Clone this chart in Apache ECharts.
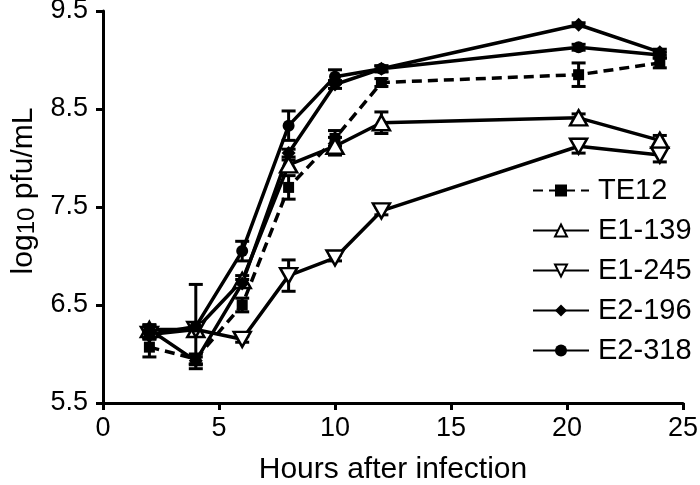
<!DOCTYPE html>
<html>
<head>
<meta charset="utf-8">
<script src="https://cdn.jsdelivr.net/npm/echarts@6/dist/echarts.min.js"></script>
<style>
  html, body { margin: 0; padding: 0; background: #fff; }
  #box { width: 700px; height: 485px; }
</style>
</head>
<body>
<div id="box"></div>
<script>
// data
var hours = [2, 4, 6, 8, 10, 12, 20.5, 24];
var xTicks = [0, 5, 10, 15, 20, 25];
var yTicks = [5.5, 6.5, 7.5, 8.5, 9.5];

var te12 = [6.07, 5.95, 6.5, 7.7, 8.2, 8.77, 8.85, 8.97];
var te12Err = [0.1, 0.05, 0.07, 0.12, 0.08, 0.04, 0.12, 0.05];
var e1_139 = [6.25, 6.25, 6.75, 7.93, 8.12, 8.36, 8.41, 8.18];
var e1_139Err = [0.05, 0.05, 0.05, 0.05, 0.09, 0.11, 0.04, 0.05];
var e1_245 = [6.2, 6.25, 6.15, 6.8, 6.98, 7.46, 8.12, 8.03];
var e1_245Err = [0.04, 0.04, 0.03, 0.16, 0.03, 0.04, 0.07, 0.07];
var e2_196 = [6.25, 5.93, 6.72, 8.05, 8.75, 8.91, 9.36, 9.08];
var e2_196Err = [0.04, 0.04, 0.04, 0.04, 0.04, 0.03, 0.02, 0.03];
var e2_318 = [6.2, 6.28, 7.05, 8.33, 8.83, 8.91, 9.13, 9.05];
var e2_318Err = [0.05, 0.43, 0.1, 0.15, 0.07, 0.03, 0.03, 0.03];

var names = ['TE12', 'E1-139', 'E1-245', 'E2-196', 'E2-318'];

function pts(ys) {
    return hours.map(function(h, i) { return [h, ys[i]]; });
}
function errPts(ys, es) {
    return hours.map(function(h, i) { return [h, ys[i] - es[i], ys[i] + es[i]]; });
}

// error bars with caps
function errSeries(ys, es) {
    return {
        type: 'custom',
        silent: true,
        z: 1,
        data: errPts(ys, es),
        renderItem: function(params, api) {
            var lo = api.coord([api.value(0), api.value(1)]);
            var hi = api.coord([api.value(0), api.value(2)]);
            var w = 7;
            var st = { stroke: '#000', lineWidth: 3 };
            return {
                type: 'group',
                children: [
                    { type: 'line', shape: { x1: lo[0], y1: lo[1], x2: hi[0], y2: hi[1] }, style: st },
                    { type: 'line', shape: { x1: lo[0] - w, y1: lo[1], x2: lo[0] + w, y2: lo[1] }, style: st },
                    { type: 'line', shape: { x1: hi[0] - w, y1: hi[1], x2: hi[0] + w, y2: hi[1] }, style: st }
                ]
            };
        }
    };
}

function lineSeries(name, ys, symbol, size, fill, dashed) {
    return {
        name: name,
        type: 'line',
        z: 3,
        data: pts(ys),
        symbol: symbol,
        symbolSize: size,
        showAllSymbol: true,
        lineStyle: { color: '#000', width: 3.5, type: dashed ? [10, 6] : 'solid' },
        itemStyle: { color: fill, borderColor: '#000', borderWidth: fill === '#fff' ? 2.5 : 0 },
        emphasis: { disabled: true }
    };
}

var downTri = 'path://M0,0 L20,0 L10,17 Z';
var upTri = 'path://M10,0 L20,17 L0,17 Z';

var font = 'Liberation Sans, Arial, sans-serif';
var myChart = echarts.init(document.getElementById('box'));
var option = {
    animation: false,
    backgroundColor: '#fff',
    textStyle: { fontFamily: font, color: '#000' },
    grid: { left: 103, right: 17, top: 11, bottom: 82, outerBoundsMode: 'none', containLabel: false },
    legend: {
        orient: 'vertical',
        left: 527,
        top: 171,
        itemWidth: 56,
        itemHeight: 15,
        itemGap: 11,
        data: names,
        textStyle: { fontSize: 29, color: '#000', fontFamily: font, padding: [0, 0, 0, 4] }
    },
    xAxis: {
        type: 'value',
        min: xTicks[0],
        max: xTicks[xTicks.length - 1],
        interval: 5,
        splitLine: { show: false },
        axisLine: { lineStyle: { color: '#000', width: 3 } },
        axisTick: { length: 7, lineStyle: { color: '#000', width: 3 } },
        axisLabel: { fontSize: 27, color: '#000', margin: 12, fontFamily: font },
        name: 'Hours after infection',
        nameLocation: 'middle',
        nameGap: 52,
        nameTextStyle: { fontSize: 30, color: '#000', fontFamily: font }
    },
    yAxis: {
        type: 'value',
        min: yTicks[0],
        max: yTicks[yTicks.length - 1],
        interval: 1,
        splitLine: { show: false },
        axisLine: { lineStyle: { color: '#000', width: 3 } },
        axisTick: { length: 7, lineStyle: { color: '#000', width: 3 } },
        axisLabel: { fontSize: 27, color: '#000', margin: 15, fontFamily: font },
        name: '{a|log}{b|10}{a| pfu/mL}',
        nameLocation: 'middle',
        nameGap: 64,
        nameTextStyle: {
            padding: [0, 0, 0, 32],
            rich: {
                a: { fontSize: 30, color: '#000', fontFamily: font },
                b: { fontSize: 24, color: '#000', fontFamily: font, verticalAlign: 'bottom', padding: [6, 0, 0, 0] }
            }
        }
    },
    series: [
        errSeries(te12, te12Err),
        errSeries(e1_139, e1_139Err),
        errSeries(e1_245, e1_245Err),
        errSeries(e2_196, e2_196Err),
        errSeries(e2_318, e2_318Err),
        lineSeries('TE12', te12, 'rect', 11, '#000', true),
        lineSeries('E1-139', e1_139, upTri, [17, 15], '#fff', false),
        lineSeries('E1-245', e1_245, downTri, [17, 15], '#fff', false),
        lineSeries('E2-196', e2_196, 'diamond', 14, '#000', false),
        lineSeries('E2-318', e2_318, 'circle', 12, '#000', false)
    ]
};
myChart.setOption(option);
</script>
</body>
</html>
